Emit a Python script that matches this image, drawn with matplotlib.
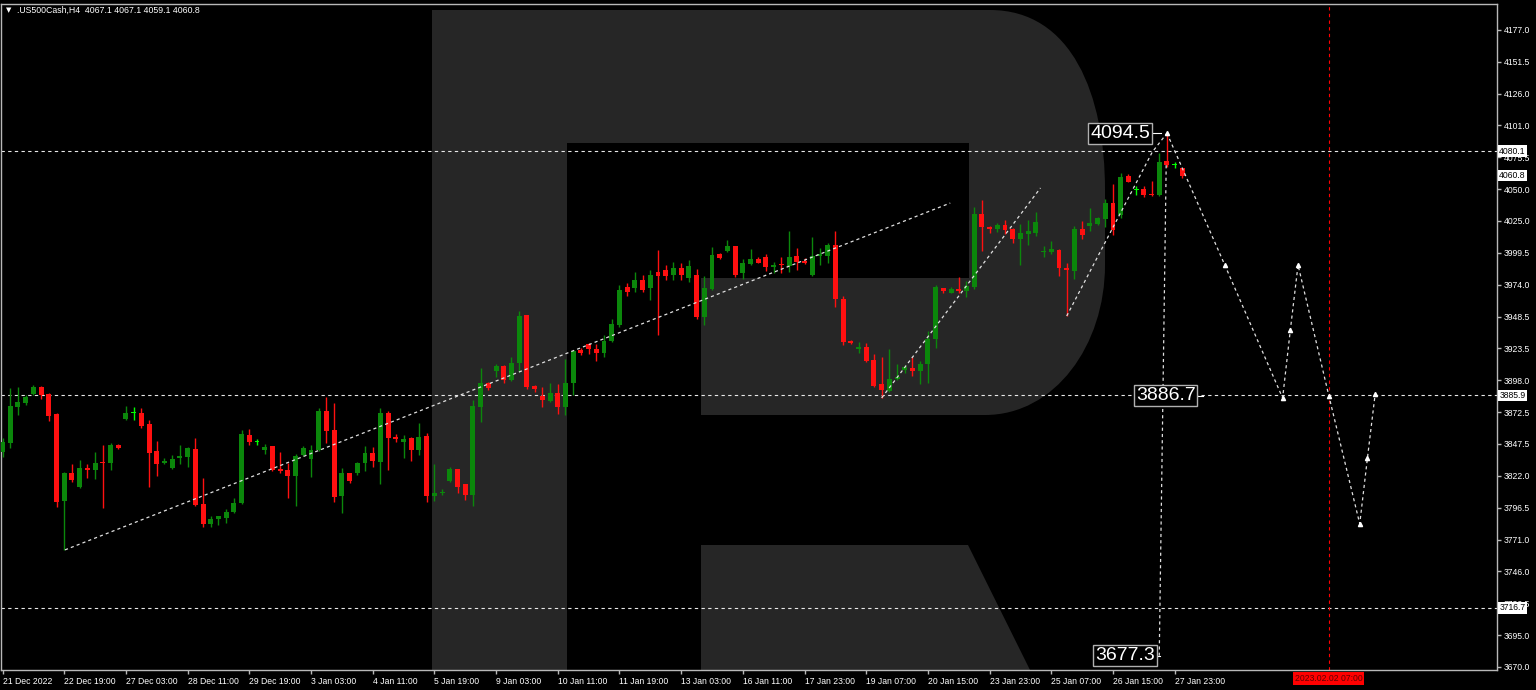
import matplotlib
matplotlib.use('Agg')
from matplotlib import pyplot
from matplotlib.path import Path
from matplotlib.patches import PathPatch
import matplotlib.transforms as mtransforms

# H4 candles, index 0 = 21 Dec 2022
opens = [3841.0, 3848.2, 3876.8, 3880.0, 3886.9, 3892.2, 3886.9, 3871.0, 3802.0, 3823.8,
         3813.1, 3828.3, 3826.4, 3833.0, 3831.7, 3846.3, 3867.0, 3871.5, 3871.5, 3863.0,
         3841.5, 3831.7, 3827.7, 3835.7, 3836.5, 3843.1, 3799.3, 3783.4, 3787.4, 3787.9,
         3792.7, 3799.9, 3854.3, 3849.0, 3842.3, 3845.5, 3827.2, 3826.4, 3821.9, 3838.4,
         3835.2, 3842.3, 3873.7, 3858.3, 3805.7, 3823.8, 3823.8, 3832.3, 3839.7, 3833.1,
         3871.5, 3852.4, 3849.0, 3851.6, 3842.3, 3853.5, 3805.7, 3808.0, 3817.6, 3826.9,
         3815.0, 3806.5, 3876.8, 3895.4, 3905.5, 3909.2, 3898.1, 3911.3, 3949.8, 3893.5,
         3885.6, 3881.6, 3888.0, 3876.3, 3895.9, 3921.9, 3926.4, 3922.4, 3919.3, 3929.3,
         3941.8, 3972.0, 3971.3, 3977.6, 3971.3, 3984.0, 3985.6, 3981.6, 3987.2, 3979.2,
         3981.6, 3947.9, 3970.2, 3998.0, 4000.9, 4004.7, 3982.9, 3990.3, 3994.0, 3995.6,
         3987.7, 3990.0, 3988.7, 3997.0, 3992.7, 3981.6, 3997.0, 3996.7, 4005.4, 3962.2,
         3929.3, 3922.4, 3924.0, 3913.9, 3894.6, 3889.5, 3898.8, 3906.0, 3907.3, 3905.4,
         3910.5, 3930.4, 3971.0, 3967.5, 3970.4, 3969.1, 3971.8, 4030.1, 4020.0, 4018.2,
         4021.4, 4017.9, 4010.2, 4014.2, 4015.3, 3999.8, 4000.1, 4001.5, 3986.9, 3985.0,
         4017.9, 4020.8, 4021.9, 4026.1, 4038.6, 4029.4, 4060.4, 4049.3, 4050.0, 4046.0,
         4045.2, 4072.6, 4069.2, 4067.1]
highs = [3851.6, 3891.4, 3892.2, 3886.1, 3894.1, 3893.3, 3888.0, 3872.0, 3825.1, 3830.9,
         3834.4, 3830.9, 3840.7, 3846.3, 3847.6, 3847.1, 3877.3, 3876.8, 3876.0, 3866.2,
         3849.5, 3836.2, 3838.3, 3846.3, 3845.0, 3851.6, 3820.3, 3789.8, 3790.1, 3795.1,
         3803.9, 3858.2, 3859.0, 3851.1, 3846.9, 3845.5, 3841.0, 3831.7, 3838.9, 3845.5,
         3846.3, 3875.5, 3884.8, 3879.5, 3827.8, 3823.8, 3832.8, 3845.5, 3844.5, 3875.5,
         3873.7, 3854.8, 3854.3, 3853.0, 3863.5, 3855.6, 3830.9, 3811.0, 3828.5, 3827.5,
         3815.3, 3882.1, 3907.3, 3896.7, 3910.5, 3910.0, 3916.1, 3952.9, 3949.8, 3894.1,
         3892.2, 3895.4, 3894.6, 3914.5, 3921.9, 3923.2, 3927.2, 3926.7, 3933.8, 3946.3,
         3973.6, 3975.2, 3984.0, 3981.6, 3985.6, 4001.5, 3989.6, 3992.0, 3991.2, 3993.5,
         3986.1, 3980.8, 4003.6, 3998.8, 4009.4, 4004.7, 3994.0, 4002.0, 3996.2, 3998.0,
         3992.2, 3995.6, 4016.9, 4003.3, 3994.8, 4011.5, 4002.8, 4006.8, 4016.6, 3964.9,
         3929.8, 3928.5, 3927.2, 3918.7, 3916.6, 3922.4, 3910.7, 3909.9, 3916.0, 3913.4,
         3937.3, 3973.6, 3971.0, 3971.8, 3979.7, 3977.1, 4036.0, 4041.3, 4020.6, 4023.2,
         4025.3, 4019.2, 4021.9, 4025.3, 4032.0, 4004.7, 4008.6, 4002.0, 3990.9, 4020.6,
         4024.5, 4034.6, 4028.0, 4041.8, 4054.0, 4062.5, 4062.0, 4052.4, 4052.4, 4056.4,
         4078.9, 4094.5, 4071.8, 4067.1]
lows = [3837.0, 3844.2, 3870.2, 3878.1, 3886.1, 3882.9, 3865.7, 3797.2, 3762.7, 3817.1,
        3811.8, 3820.3, 3819.2, 3795.9, 3826.4, 3843.1, 3866.2, 3866.2, 3859.6, 3813.1,
        3821.6, 3830.9, 3826.9, 3830.9, 3829.1, 3797.8, 3781.3, 3781.3, 3782.6, 3784.5,
        3791.9, 3799.3, 3846.3, 3846.3, 3838.9, 3825.6, 3824.3, 3804.4, 3798.0, 3837.6,
        3821.1, 3841.8, 3848.2, 3801.2, 3792.5, 3816.3, 3822.7, 3825.9, 3829.1, 3815.0,
        3826.4, 3849.0, 3835.7, 3833.9, 3838.3, 3801.2, 3801.7, 3806.5, 3817.1, 3808.4,
        3802.5, 3798.0, 3864.9, 3890.1, 3900.2, 3895.4, 3897.5, 3904.7, 3890.6, 3888.2,
        3876.8, 3880.8, 3871.0, 3870.2, 3886.1, 3917.9, 3918.7, 3913.4, 3916.6, 3928.5,
        3940.2, 3964.9, 3968.1, 3968.1, 3961.7, 3933.8, 3977.6, 3977.6, 3977.6, 3976.0,
        3946.3, 3941.8, 3969.6, 3994.0, 4000.1, 3980.2, 3978.1, 3989.5, 3990.9, 3985.0,
        3983.4, 3982.9, 3984.2, 3985.6, 3990.1, 3980.8, 3989.5, 3991.4, 3955.8, 3925.9,
        3926.7, 3919.8, 3912.6, 3892.7, 3883.4, 3888.7, 3898.0, 3903.3, 3901.2, 3894.8,
        3895.9, 3923.2, 3967.0, 3967.0, 3967.5, 3964.3, 3970.2, 4000.9, 4014.7, 4016.1,
        4014.2, 4007.3, 3989.5, 4005.4, 4012.6, 3995.6, 3998.3, 3980.8, 3948.9, 3978.1,
        4010.0, 4016.9, 4021.4, 4019.5, 4013.4, 4027.0, 4055.3, 4045.2, 4043.4, 4044.5,
        4044.5, 4067.3, 4066.5, 4059.1]
closes = [3849.0, 3877.3, 3880.5, 3884.8, 3892.2, 3886.1, 3869.7, 3801.2, 3824.3, 3818.5,
          3827.7, 3826.4, 3832.2, 3831.7, 3846.3, 3844.2, 3871.5, 3871.5, 3861.4, 3840.2,
          3831.2, 3833.8, 3835.4, 3837.6, 3843.7, 3798.6, 3783.4, 3787.1, 3789.8, 3793.2,
          3799.9, 3854.8, 3849.0, 3849.0, 3845.0, 3826.4, 3825.9, 3821.7, 3837.6, 3844.2,
          3842.3, 3873.7, 3857.7, 3805.2, 3823.8, 3817.9, 3832.3, 3839.7, 3833.6, 3871.5,
          3851.6, 3850.8, 3851.1, 3842.3, 3853.0, 3805.7, 3807.8, 3808.8, 3826.9, 3813.1,
          3806.5, 3877.3, 3895.4, 3891.4, 3909.2, 3898.1, 3911.3, 3949.0, 3892.2, 3890.6,
          3882.1, 3888.0, 3876.3, 3895.9, 3921.4, 3919.8, 3922.4, 3919.3, 3929.3, 3942.6,
          3969.7, 3968.1, 3977.6, 3969.7, 3981.6, 3980.8, 3980.8, 3987.2, 3981.6, 3988.8,
          3947.9, 3971.0, 3997.5, 3994.8, 4004.7, 3981.6, 3990.9, 3994.0, 3991.4, 3987.7,
          3989.5, 3989.3, 3996.2, 3992.2, 3990.9, 3996.7, 3998.0, 4005.4, 3962.2, 3928.5,
          3927.7, 3924.5, 3913.1, 3893.5, 3890.1, 3898.8, 3900.7, 3908.1, 3905.4, 3910.7,
          3930.4, 3971.8, 3969.1, 3970.2, 3969.1, 3972.8, 4030.1, 4019.5, 4017.9, 4021.4,
          4017.4, 4010.2, 4014.7, 4016.6, 4024.0, 4000.5, 4002.0, 3986.9, 3985.6, 4017.9,
          4013.4, 4022.7, 4026.7, 4038.6, 4017.4, 4059.8, 4055.9, 4049.3, 4045.2, 4045.0,
          4071.8, 4069.1, 4069.2, 4060.8]

xlabels = ['21 Dec 2022', '22 Dec 19:00', '27 Dec 03:00', '28 Dec 11:00', '29 Dec 19:00',
           '3 Jan 03:00', '4 Jan 11:00', '5 Jan 19:00', '9 Jan 03:00', '10 Jan 11:00',
           '11 Jan 19:00', '13 Jan 03:00', '16 Jan 11:00', '17 Jan 23:00', '19 Jan 07:00',
           '20 Jan 15:00', '23 Jan 23:00', '25 Jan 07:00', '26 Jan 15:00', '27 Jan 23:00']
yticks = [4177.0, 4151.5, 4126.0, 4101.0, 4075.5, 4050.0, 4025.0, 3999.5, 3974.0, 3948.5,
          3923.5, 3898.0, 3872.5, 3847.5, 3822.0, 3796.5, 3771.0, 3746.0, 3720.5, 3695.0, 3670.0]

# levels and drawn objects (bar index, price)
levels = [4080.1, 3885.9, 3716.7]
price_boxes = [4080.1, 4060.8, 3885.9, 3716.7]
trend1_x, trend1_y = [8.1, 122.9], [3762.9, 4038.9]
trend2_x, trend2_y = [114.0, 134.6], [3883.8, 4050.9]
trend3_x, trend3_y = [138.0, 149.1, 151.0], [3949.0, 4079.5, 4094.5]
drop_x, drop_y = [150.9, 150.0], [4069.0, 3678.7]
fc_x = [151.0, 158.5, 166.0, 167.0, 168.0, 172.0, 176.0, 177.0, 178.0]
fc_y = [4094.5, 3989.6, 3883.8, 3937.9, 3989.6, 3885.4, 3783.6, 3836.1, 3886.9]
target_bar = 172
target_label = '2023.02.02 07:00'

W, H = 1536, 690
fig = pyplot.figure(figsize=(W / 100, H / 100), dpi=100, facecolor='black')
ax = fig.add_axes([1 / W, 20 / H, 1496 / W, 666 / H], facecolor='black')
ax.set_xlim(-0.2, 193.8)
ax.set_ylim(3667.3, 4197.3)

# watermark "R" in pixel coords of the picture
def px(x, y):
    return (x / W, 1 - y / H)

M, L, C4, CL = Path.MOVETO, Path.LINETO, Path.CURVE4, Path.CLOSEPOLY
bowl = [(432, 10), (990, 10), (1072, 10), (1105, 95), (1105, 190), (1105, 265),
        (1105, 345), (1055, 415), (985, 415), (701, 415), (701, 278), (969, 278),
        (969, 143), (567, 143), (567, 670), (432, 670), (432, 10)]
codes = [M, L, C4, C4, C4, L, C4, C4, C4, L, L, L, L, L, L, L, CL]
ax.add_patch(PathPatch(Path([px(*p) for p in bowl], codes), transform=fig.transFigure,
                       facecolor='#262626', edgecolor='none', zorder=0))
leg = [(701, 545), (968, 545), (1030, 670), (701, 670), (701, 545)]
ax.add_patch(PathPatch(Path([px(*p) for p in leg], [M, L, L, L, CL]), transform=fig.transFigure,
                       facecolor='#262626', edgecolor='none', zorder=0))

# candles
green, red, lime = '#0b870b', '#ff1010', '#00ff00'
for i in range(len(opens)):
    o, h, l, c = opens[i], highs[i], lows[i], closes[i]
    if o == c:
        col = lime
    elif c > o:
        col = green
    else:
        col = red
    ax.vlines(i, l, h, color=col, lw=1, zorder=3)
    body = max(abs(c - o), 0.8)
    ax.bar(i, body, bottom=min(o, c), width=0.64, color=col, edgecolor='none', zorder=3)

dash = (0, (3, 3))
for lv in levels:
    ax.axhline(lv, color='#e8e8e8', lw=0.8, ls=dash, zorder=2)
ax.axvline(target_bar, color='red', lw=0.8, ls=dash, zorder=2)
for xs, ys in [(trend1_x, trend1_y), (trend2_x, trend2_y), (trend3_x, trend3_y), (drop_x, drop_y)]:
    ax.plot(xs, ys, color='#e0e0e0', lw=0.9, ls=(0, (2.5, 2.5)), zorder=4)
ax.plot(fc_x, fc_y, color='#e0e0e0', lw=0.9, ls=(0, (2.5, 2.5)), zorder=4,
        marker='^', ms=3, mfc='white', mec='white')

# big value labels
big = dict(color='white', fontsize=14, family='Liberation Sans', va='center', ha='right', zorder=6,
           bbox=dict(boxstyle='square,pad=0.1', fc='black', ec='#b0b0b0', lw=1))
ax.text(148.8, 4094.5, '4094.5', **big)
ax.plot([148.9, 150.2], [4094.5, 4094.5], color='white', lw=0.8, zorder=5)
ax.text(154.7, 3885.6, '3886.7', **big)
ax.plot([154.8, 155.7], [3885.6, 3885.6], color='white', lw=0.8, zorder=5)
ax.text(149.4, 3678.7, '3677.3', **big)
ax.plot([149.5, 150.1], [3678.7, 3678.7], color='white', lw=0.8, zorder=5)

# axes look
for s in ax.spines.values():
    s.set_color('#b8b8b8')
    s.set_linewidth(1)
ax.yaxis.tick_right()
ax.set_yticks(yticks)
ax.set_yticklabels(['%.1f' % v for v in yticks])
ax.set_xticks(range(0, 8 * len(xlabels), 8))
ax.set_xticklabels(xlabels, ha='left')
ax.tick_params(colors='#b8b8b8', labelcolor='white', labelsize=6.2, length=3, width=1, pad=2)
for t in ax.get_xticklabels() + ax.get_yticklabels():
    t.set_family('Liberation Sans')

ytr = mtransforms.blended_transform_factory(ax.transAxes, ax.transData)
for pb in price_boxes:
    ax.text(1.0015, pb, '%.1f' % pb, transform=ytr, ha='left', va='center', fontsize=6.2,
            family='Liberation Sans', color='black', zorder=7, clip_on=False,
            bbox=dict(boxstyle='square,pad=0.15', fc='white', ec='none'))
xtr = mtransforms.blended_transform_factory(ax.transData, ax.transAxes)
ax.text(target_bar, -0.006, target_label, transform=xtr, ha='center', va='top', fontsize=6.2,
        family='Liberation Sans', color='#600000', clip_on=False,
        bbox=dict(boxstyle='square,pad=0.2', fc='#ff0000', ec='none'))

fig.text(6 / W, 1 - 10 / H, '\u25bc', color='white', fontsize=5, va='center')
fig.text(17 / W, 1 - 10 / H, '.US500Cash,H4  4067.1 4067.1 4059.1 4060.8', color='white',
         fontsize=6.3, family='Liberation Sans', va='center')

fig.savefig('out.png', dpi=100, facecolor='black')
